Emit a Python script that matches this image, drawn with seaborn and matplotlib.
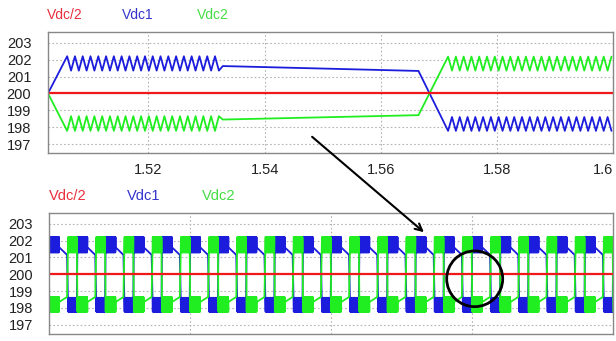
import numpy as np
import seaborn as sns
import matplotlib
matplotlib.use("Agg")
import matplotlib.pyplot as plt
from matplotlib.patches import Ellipse, FancyArrowPatch

# --- values ---
RIPPLE = 0.00134      # switching ripple period, s
VDC_HALF = 200.0
Y_TICKS = [197, 198, 199, 200, 201, 202, 203]
Y_LIM = (196.45, 203.62)

# top panel: one changeover, zoomed in
top_t = [1.5027, 1.5060, 1.5328, 1.5665, 1.5716, 1.6000]
top_is_ripple = [False, True, False, False, True]
vdc1_top_a = [200.0, 202.20, 201.62, 201.33, 197.78]
vdc1_top_b = [202.20, 201.35, 201.33, 197.78, 198.60]
vdc2_top_a = [200.0, 197.78, 198.45, 198.71, 202.18]
vdc2_top_b = [197.78, 198.65, 198.71, 202.18, 201.35]
top_xticks = [1.52, 1.54, 1.56, 1.58, 1.6]
top_xlabels = ["1.52", "1.54", "1.56", "1.58", "1.6"]
TOP_XLIM = (1.5027, 1.6)

# bottom panel: one swap cycle, repeated
cyc_t = [0.001, 0.036, 0.064, 0.068, 0.099, 0.101]
cyc_is_ripple = [True, False, False, True, False]
vdc1_cyc_a = [202.20, 201.60, 201.15, 197.78, 198.60]
vdc1_cyc_b = [201.30, 201.15, 197.78, 198.60, 202.20]
vdc2_cyc_a = [197.78, 198.35, 198.65, 202.20, 201.30]
vdc2_cyc_b = [198.65, 198.65, 202.20, 201.30, 197.78]
CYCLE_LEN = 0.1
N_CYCLES = 20
bot_xticks = [0.5, 1.0, 1.5]
BOT_XLIM = (0.0, 2.0)

RED = "#f01818"
BLUE = "#1c1cdc"
GREEN = "#20ee20"


def build(breaks, ripple, a, b, offset=0.0):
    ts, vs = [], []
    for i, is_rip in enumerate(ripple):
        t0, t1 = breaks[i] + offset, breaks[i + 1] + offset
        if is_rip:
            tt = np.arange(t0, t1, RIPPLE / 2)
            vv = np.where(np.arange(len(tt)) % 2 == 0, a[i], b[i])
        else:
            tt = np.array([t0, t1])
            vv = np.array([a[i], b[i]])
        ts.append(tt)
        vs.append(vv)
    return np.concatenate(ts), np.concatenate(vs)


def build_cycles(a, b):
    ts, vs = [np.array([0.0])], [np.array([VDC_HALF])]
    for k in range(N_CYCLES):
        t, v = build(cyc_t, cyc_is_ripple, a, b, offset=k * CYCLE_LEN)
        ts.append(t)
        vs.append(v)
    return np.concatenate(ts), np.concatenate(vs)


sns.set_theme(style="white")
plt.rcParams["font.family"] = ["Liberation Sans", "DejaVu Sans"]

fig = plt.figure(figsize=(6.16, 3.41), dpi=100)
ax_top = fig.add_axes([48 / 616, 1 - 153.3 / 341, 565 / 616, 121 / 341])
ax_bot = fig.add_axes([49 / 616, 1 - 334 / 341, 564 / 616, 120.7 / 341])

panels = [
    (ax_top, build(top_t, top_is_ripple, vdc1_top_a, vdc1_top_b),
     build(top_t, top_is_ripple, vdc2_top_a, vdc2_top_b), TOP_XLIM),
    (ax_bot, build_cycles(vdc1_cyc_a, vdc1_cyc_b),
     build_cycles(vdc2_cyc_a, vdc2_cyc_b), BOT_XLIM),
]

for ax, (t1, v1), (t2, v2), xlim in panels:
    sns.lineplot(x=t1, y=v1, color=BLUE, lw=1.3, estimator=None, sort=False, ax=ax)
    sns.lineplot(x=t2, y=v2, color=GREEN, lw=1.3, estimator=None, sort=False, ax=ax)
    sns.lineplot(x=list(xlim), y=[VDC_HALF, VDC_HALF], color=RED, lw=1.6,
                 estimator=None, sort=False, ax=ax)
    ax.set_xlim(*xlim)
    ax.set_ylim(*Y_LIM)
    ax.set_yticks(Y_TICKS)
    ax.set_yticklabels([str(y) for y in Y_TICKS])
    ax.grid(True, ls=(0, (1.5, 2)), color="#b4b4b4", lw=0.8)
    ax.set_xlabel("")
    ax.set_ylabel("")
    for s in ax.spines.values():
        s.set_color("#888888")
        s.set_linewidth(1.0)
    ax.tick_params(length=0, labelsize=10.5, colors="#222222")

ax_top.set_xticks(top_xticks)
ax_top.set_xticklabels(top_xlabels)
ax_top.get_xticklabels()[-1].set_horizontalalignment("right")
ax_top.tick_params(axis="x", pad=7)
ax_top.tick_params(axis="y", pad=12)

ax_bot.set_xticks(bot_xticks)
ax_bot.set_xticklabels([])
ax_bot.tick_params(axis="y", pad=11.5)

# legend-like titles
for (x, y, size) in [(47, 15, 10), (49, 196, 10.5)]:
    for dx, txt, col in [(0, "Vdc/2", "#e8303c"), (75, "Vdc1", "#3434cc"),
                         (150, "Vdc2", "#44dd44")]:
        fig.text((x + dx + (3 if size > 10 and dx else 0)) / 616, 1 - y / 341, txt,
                 color=col, fontsize=size, ha="left", va="center")

# arrow from the top panel changeover into the bottom panel
fig.add_artist(FancyArrowPatch((310 / 616, 1 - 135 / 341), (426 / 616, 1 - 234 / 341),
                               transform=fig.transFigure, arrowstyle="->,head_length=5,head_width=2.5",
                               color="black", lw=1.5))
fig.add_artist(Ellipse((474.7 / 616, 1 - 278.8 / 341), 56 / 616, 55.7 / 341,
                       transform=fig.transFigure, fill=False, color="black", lw=2))

fig.savefig("out.png", dpi=100)
